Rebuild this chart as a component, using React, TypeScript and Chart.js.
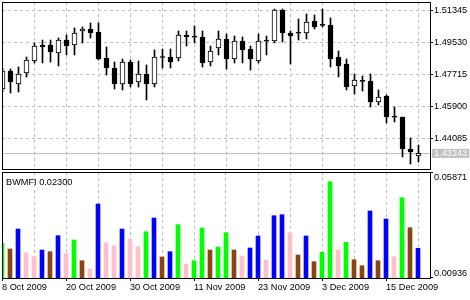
import React, { useEffect, useRef } from 'react';
import { Chart, registerables } from 'chart.js';

Chart.register(...registerables);

// ---- data ----
const dateLabels = ['8 Oct 2009', '20 Oct 2009', '30 Oct 2009', '11 Nov 2009', '23 Nov 2009', '3 Dec 2009', '15 Dec 2009'];
const LABEL_STEP = 8;
const GRID_STEP = 4;

const open = [
  1.46894, 1.47915, 1.47178, 1.47802, 1.48482, 1.49389, 1.49389, 1.48936, 1.49673, 1.49389,
  1.50183, 1.50296, 1.50126, 1.48652, 1.48085, 1.47178, 1.48425, 1.47291, 1.47745, 1.47178,
  1.48737, 1.48709, 1.48652, 1.49956, 1.49843, 1.49843, 1.48425, 1.49219, 1.49729, 1.48595,
  1.49616, 1.49162, 1.48482, 1.49630, 1.49616, 1.51374, 1.50069, 1.50080, 1.50069, 1.50750,
  1.50530, 1.50523, 1.48709, 1.48312, 1.47064, 1.47360, 1.47348, 1.46157, 1.46497, 1.45320,
  1.45307, 1.43492, 1.43095,
];
const high = [
  1.48085, 1.48028, 1.48142, 1.48709, 1.49503, 1.49673, 1.49673, 1.49786, 1.49956, 1.50353,
  1.50410, 1.50637, 1.50637, 1.49276, 1.48425, 1.48595, 1.48539, 1.48482, 1.48255, 1.49106,
  1.49162, 1.49162, 1.50183, 1.50183, 1.50466, 1.50183, 1.49332, 1.50183, 1.50013, 1.49899,
  1.49843, 1.49332, 1.50013, 1.49899, 1.51430, 1.51430, 1.50183, 1.50863, 1.51147, 1.51090,
  1.51430, 1.50920, 1.49049, 1.48595, 1.47745, 1.47632, 1.47745, 1.46837, 1.46554, 1.45874,
  1.45307, 1.44116, 1.43719,
];
const low = [
  1.46724, 1.46667, 1.46724, 1.47575, 1.48369, 1.48369, 1.48425, 1.48198, 1.48822, 1.48822,
  1.49503, 1.49786, 1.48539, 1.47688, 1.46894, 1.46837, 1.47008, 1.47008, 1.46271, 1.47008,
  1.48085, 1.48085, 1.48482, 1.49332, 1.49503, 1.48142, 1.48198, 1.48822, 1.48028, 1.48369,
  1.48369, 1.47972, 1.48369, 1.48822, 1.49503, 1.49559, 1.48312, 1.49673, 1.49729, 1.50296,
  1.50410, 1.48142, 1.47575, 1.46837, 1.46611, 1.46781, 1.45874, 1.45987, 1.44967, 1.45024,
  1.43039, 1.42642, 1.42755,
];
const close = [
  1.47915, 1.47291, 1.47745, 1.48539, 1.49332, 1.49276, 1.48992, 1.49673, 1.49332, 1.50069,
  1.50296, 1.50069, 1.48595, 1.48085, 1.47178, 1.48425, 1.47178, 1.47745, 1.47178, 1.48709,
  1.48680, 1.48425, 1.49956, 1.49843, 1.49830, 1.48369, 1.49049, 1.49729, 1.48595, 1.49616,
  1.49106, 1.48595, 1.49616, 1.49605, 1.51374, 1.50069, 1.49899, 1.50060, 1.50693, 1.50410,
  1.50500, 1.48595, 1.48198, 1.47008, 1.47405, 1.47330, 1.46157, 1.46441, 1.45307, 1.45290,
  1.43492, 1.43322, 1.43243,
];

const mfiValues = [
  0.02535, 0.02265, 0.03214, 0.02089, 0.01899, 0.02217, 0.02136, 0.02896, 0.02042, 0.02692,
  0.01709, 0.01316, 0.04400, 0.02564, 0.02421, 0.03214, 0.02739, 0.02374, 0.03085, 0.03736,
  0.01885, 0.02136, 0.03418, 0.01553, 0.01709, 0.03261, 0.02217, 0.02360, 0.03038, 0.02217,
  0.01932, 0.02312, 0.02881, 0.01743, 0.03845, 0.03892, 0.03038, 0.01980, 0.02881, 0.01662,
  0.02108, 0.05458, 0.02217, 0.02583, 0.01757, 0.01472, 0.04068, 0.01709, 0.03688, 0.01899,
  0.04699, 0.03275, 0.02300,
];
// G = green (MFI up, volume up), N = brown (fade), B = blue (fake), P = pink (squat)
const mfiZones = [
  'G', 'N', 'B', 'P', 'P', 'B', 'N', 'B', 'P', 'G',
  'N', 'P', 'B', 'P', 'P', 'B', 'P', 'P', 'G', 'B',
  'N', 'B', 'G', 'P', 'G', 'G', 'N', 'G', 'G', 'N',
  'P', 'B', 'B', 'P', 'B', 'B', 'P', 'N', 'B', 'N',
  'G', 'G', 'P', 'G', 'N', 'N', 'B', 'N', 'B', 'P',
  'G', 'N', 'B',
];

const priceTicks = [1.44085, 1.459, 1.47715, 1.4953, 1.51345];
const lastPrice = 1.43243;
const priceMin = 1.42358;
const priceMax = 1.51827;
const mfiTicks = [0.00936, 0.05871];
const mfiMin = 0.00889;
const mfiMax = 0.05918;
const indicatorTitle = 'BWMFI 0.02300';

// ---- styles ----
const zoneColors: Record<string, string> = { G: '#00FF00', B: '#0000FF', N: '#8B4513', P: '#FFC0CB' };
const GRID = '#C0C0C0';
const DASH = [3, 3];
const FONT = '"Liberation Sans", Arial, sans-serif';
const FSIZE = 9.2;

const idx = open.map((_, i) => i);
const gridIdx = idx.filter((i) => i % GRID_STEP === 0);

const zeroPad = (s: any) => {
  s.paddingLeft = 0;
  s.paddingRight = 0;
  s.paddingTop = 0;
  s.paddingBottom = 0;
};

const makeFrame = (title?: string) => ({
  id: 'frame',
  afterDraw(chart: any) {
    const { ctx, chartArea: a } = chart;
    ctx.save();
    ctx.strokeStyle = '#000';
    ctx.lineWidth = 1;
    ctx.setLineDash([]);
    ctx.strokeRect(a.left + 0.5, a.top + 0.5, a.right - a.left, a.bottom - a.top);
    if (title) {
      ctx.fillStyle = '#000';
      ctx.font = `${FSIZE}px ${FONT}`;
      ctx.textBaseline = 'middle';
      ctx.textAlign = 'left';
      ctx.fillText(title, a.left + 4, a.top + 10);
    }
    ctx.restore();
  },
});

export default function App() {
  const topRef = useRef<HTMLCanvasElement>(null);
  const botRef = useRef<HTMLCanvasElement>(null);

  useEffect(() => {
    const isLast = (c: any) => !!c.tick && c.tick.value === lastPrice;

    const top = new Chart(topRef.current as HTMLCanvasElement, {
      type: 'bar',
      data: {
        datasets: [
          {
            label: 'body',
            data: idx.map((i) => ({ x: i, y: [open[i], close[i]] })) as any,
            backgroundColor: idx.map((i) => (close[i] >= open[i] ? '#FFFFFF' : '#000000')),
            borderColor: '#000000',
            borderWidth: 1,
            borderSkipped: false,
            barThickness: 5,
            minBarLength: 1,
            grouped: false,
            order: 0,
            clip: 0,
          } as any,
          {
            label: 'wick',
            data: idx.map((i) => ({ x: i, y: [low[i], high[i]] })) as any,
            backgroundColor: '#000000',
            borderWidth: 0,
            barThickness: 1,
            grouped: false,
            order: 1,
            clip: 0,
          } as any,
        ],
      },
      options: {
        responsive: false,
        animation: false,
        devicePixelRatio: 1,
        events: [],
        layout: { padding: { left: 2, top: 2, right: 0, bottom: 2 } },
        plugins: { legend: { display: false }, tooltip: { enabled: false }, title: { display: false } },
        scales: {
          x: {
            type: 'linear',
            min: -0.0625,
            max: 53.4375,
            offset: false,
            position: 'bottom',
            afterBuildTicks: (s: any) => {
              s.ticks = gridIdx.map((v) => ({ value: v }));
            },
            afterFit: (s: any) => {
              s.height = 0;
              zeroPad(s);
            },
            ticks: { display: false },
            grid: { offset: false, color: GRID, drawTicks: false, lineWidth: 1 },
            border: { display: false, dash: DASH },
          },
          y: {
            type: 'linear',
            position: 'right',
            min: priceMin,
            max: priceMax,
            beginAtZero: false,
            afterBuildTicks: (s: any) => {
              s.ticks = [lastPrice, ...priceTicks].map((v) => ({ value: v }));
            },
            afterFit: (s: any) => {
              s.width = 40;
              zeroPad(s);
            },
            grid: {
              color: GRID,
              drawTicks: true,
              tickLength: 3,
              tickColor: (c: any) => (isLast(c) ? 'rgba(0,0,0,0)' : '#000000'),
              tickBorderDash: [],
            },
            border: { display: false, dash: (c: any) => (isLast(c) ? [] : DASH) },
            ticks: {
              padding: 1,
              autoSkip: false,
              color: (c: any) => (isLast(c) ? '#FFFFFF' : '#000000'),
              showLabelBackdrop: (c: any) => isLast(c),
              backdropColor: GRID,
              backdropPadding: { left: 2, right: 2, top: 0, bottom: 0 },
              font: { family: FONT, size: FSIZE, lineHeight: '9px' },
              callback: (v: any) => Number(v).toFixed(5),
            },
          } as any,
        },
      },
      plugins: [makeFrame()],
    });

    const bot = new Chart(botRef.current as HTMLCanvasElement, {
      type: 'bar',
      data: {
        datasets: [
          {
            label: 'BWMFI',
            data: idx.map((i) => ({ x: i, y: mfiValues[i] })) as any,
            backgroundColor: idx.map((i) => zoneColors[mfiZones[i]]),
            borderWidth: 0,
            barThickness: 4,
            grouped: false,
            clip: 0,
          } as any,
        ],
      },
      options: {
        responsive: false,
        animation: false,
        devicePixelRatio: 1,
        events: [],
        layout: { padding: { left: 2, top: 1, right: 0, bottom: 0 } },
        plugins: { legend: { display: false }, tooltip: { enabled: false }, title: { display: false } },
        scales: {
          x: {
            type: 'linear',
            min: 0,
            max: 53.5,
            offset: false,
            position: 'bottom',
            afterBuildTicks: (s: any) => {
              s.ticks = gridIdx.map((v) => ({ value: v }));
            },
            afterFit: (s: any) => {
              s.height = 22;
              zeroPad(s);
            },
            grid: {
              offset: false,
              color: GRID,
              drawTicks: true,
              tickLength: 3,
              tickColor: (c: any) => (c.tick && c.tick.value % LABEL_STEP === 0 ? '#000000' : 'rgba(0,0,0,0)'),
              tickBorderDash: [],
            },
            border: { display: false, dash: DASH },
            ticks: {
              autoSkip: false,
              maxRotation: 0,
              minRotation: 0,
              align: 'start',
              padding: 1,
              color: '#000000',
              font: { family: FONT, size: FSIZE },
              callback: (v: any) => (Number(v) % LABEL_STEP === 0 ? dateLabels[Number(v) / LABEL_STEP] : ''),
            },
          } as any,
          y: {
            type: 'linear',
            position: 'right',
            min: mfiMin,
            max: mfiMax,
            beginAtZero: false,
            afterBuildTicks: (s: any) => {
              s.ticks = mfiTicks.map((v) => ({ value: v }));
            },
            afterFit: (s: any) => {
              s.width = 40;
              zeroPad(s);
            },
            grid: { drawOnChartArea: false, drawTicks: true, tickLength: 3, tickColor: '#000000', tickBorderDash: [] },
            border: { display: false },
            ticks: {
              padding: 1,
              autoSkip: false,
              color: '#000000',
              font: { family: FONT, size: FSIZE, lineHeight: '8px' },
              callback: (v: any) =>
                Number(v) === mfiTicks[1] ? ['', Number(v).toFixed(5)] : [Number(v).toFixed(5), ''],
            },
          } as any,
        },
      },
      plugins: [makeFrame(indicatorTitle)],
    });

    return () => {
      top.destroy();
      bot.destroy();
    };
  }, []);

  return (
    <div style={{ position: 'absolute', left: 0, top: 0, width: 470, height: 300, background: '#FFFFFF' }}>
      <canvas ref={topRef} width={470} height={171} style={{ position: 'absolute', left: 0, top: 0 }} />
      <canvas ref={botRef} width={470} height={129} style={{ position: 'absolute', left: 0, top: 171 }} />
    </div>
  );
}
